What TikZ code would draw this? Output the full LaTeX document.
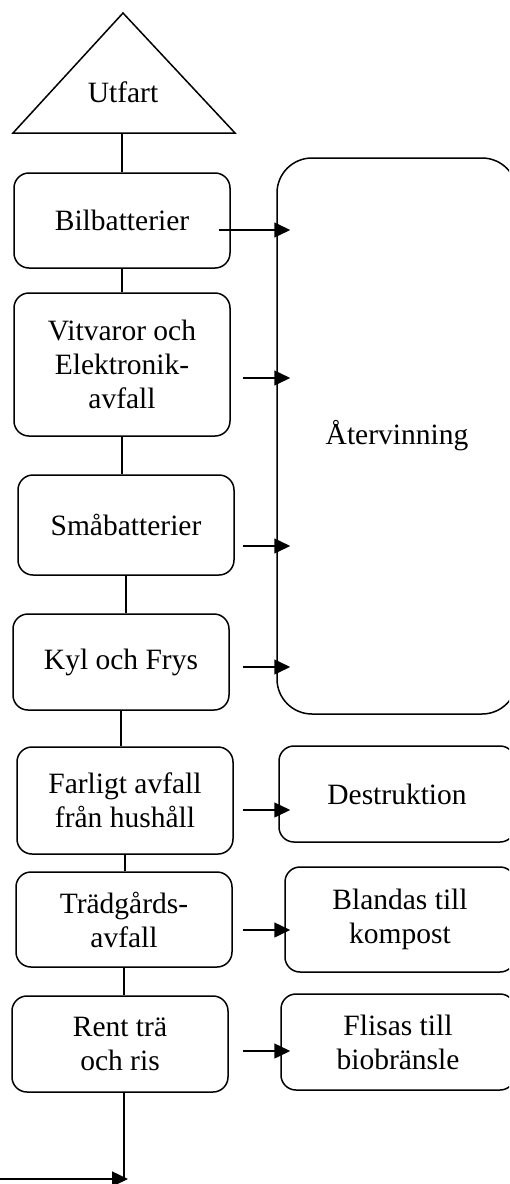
\documentclass[tikz,border=0pt]{standalone}
\usepackage{fontspec}
\setmainfont{Liberation Serif}
\usetikzlibrary{arrows.meta,calc}
\begin{document}
\begin{tikzpicture}[x=1pt,y=-1pt,
  line width=1.5pt,
  box/.style={draw,rounded corners=15pt,minimum width=216pt,align=center,inner sep=0pt},
  rbox/.style={draw,rounded corners=15pt,align=center,inner sep=0pt},
  link/.style={line width=1.2pt},
  arr/.style={line width=1.5pt,-{Triangle[length=16pt,width=15pt]}},
  every node/.style={font=\fontsize{29.5}{34}\selectfont}]
\useasboundingbox (0,0) rectangle (509,1184);
\clip (0,0) rectangle (509,1184);
% exit triangle
\coordinate (apex) at (123,13);
\coordinate (bl) at (13,133);
\coordinate (br) at (235,133);
\draw[line width=1.5pt,line join=miter] (apex) -- (br) -- (bl) -- cycle;
\node (utf) at (123,92) {Utfart};
\coordinate (tribase) at (122,133);
% left column
\node[box,minimum height=95pt] (bil) at (122,220.5) {Bilbatterier};
\node[box,minimum height=143pt] (vit) at (122,364.5) {Vitvaror och\\Elektronik-\\avfall};
\node[box,minimum height=100pt] (sma) at (126,525) {Småbatterier};
\node[box,minimum height=96pt] (kyl) at (121,662) {Kyl och Frys};
\node[box,minimum height=107pt] (far) at (125,800.5) {Farligt avfall\\från hushåll};
\node[box,minimum height=95pt] (tra) at (124,919.5) {Trädgårds-\\avfall};
\node[box,minimum height=96pt] (ren) at (120,1044) {Rent trä\\och ris};
% right column
\node[draw,rounded corners=35pt,minimum width=240pt,minimum height=556pt,inner sep=0pt] (rec) at (397,436) {Återvinning};
\node[rbox,minimum width=236pt,minimum height=96pt] (des) at (397,794) {Destruktion};
\node[rbox,minimum width=230pt,minimum height=105pt] (bla) at (400,919.5) {Blandas till\\kompost};
\node[rbox,minimum width=234pt,minimum height=96pt] (fli) at (398,1042) {Flisas till\\biobränsle};
% vertical links
\draw[link] (tribase) -- (bil.north -| tribase);
\draw[link] (bil.south) -- (vit.north);
\draw[link] (vit.south) -- (vit.south |- sma.north);
\draw[link] (sma.south) -- (sma.south |- kyl.north);
\draw[link] (kyl.south) -- (kyl.south |- far.north);
\draw[link] (far.south) -- (far.south |- tra.north);
\draw[link] (tra.south) -- (tra.south |- ren.north);
% horizontal arrows
\coordinate (s1) at ($(bil.east)+(-12,9.5)$);
\draw[arr] (s1) -- ($(s1 -| rec.west)+(14,0)$);
\coordinate (s2) at ($(vit.east)+(12,13.5)$);
\draw[arr] (s2) -- ($(s2 -| rec.west)+(14,0)$);
\coordinate (s3) at ($(sma.east)+(8,21)$);
\draw[arr] (s3) -- ($(s3 -| rec.west)+(14,0)$);
\coordinate (s4) at ($(kyl.east)+(13,5)$);
\draw[arr] (s4) -- ($(s4 -| rec.west)+(14,0)$);
\coordinate (s5) at ($(far.east)+(9,9.5)$);
\draw[arr] (s5) -- ($(s5 -| des.west)+(12,0)$);
\coordinate (s6) at ($(tra.east)+(10,10.5)$);
\draw[arr] (s6) -- ($(s6 -| bla.west)+(6,0)$);
\coordinate (s7) at ($(ren.east)+(14,7)$);
\draw[arr] (s7) -- ($(s7 -| fli.west)+(10,0)$);
% bottom
\coordinate (down) at (124,1179);
\coordinate (leftend) at (0,1179);
\draw[link] (ren.south -| down) -- (down);
\draw[arr] (leftend) -- ($(down)+(4,0)$);
\end{tikzpicture}
\end{document}
